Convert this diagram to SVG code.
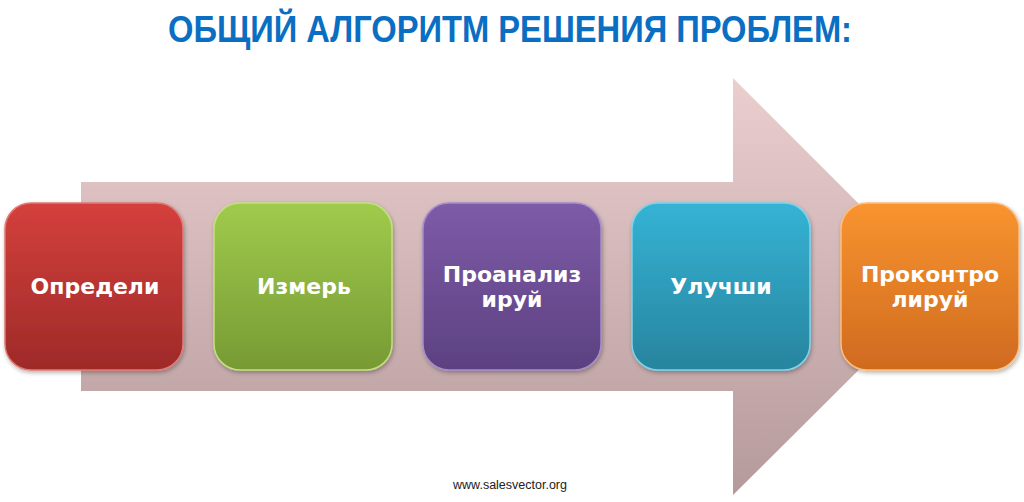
<svg xmlns="http://www.w3.org/2000/svg" width="1024" height="502" viewBox="0 0 1024 502">
<defs>
<linearGradient id="gArrow" x1="0" y1="0" x2="0" y2="1">
<stop offset="0" stop-color="#EBCFCF"/>
<stop offset="1" stop-color="#B59A9C"/>
</linearGradient>
<linearGradient id="gRed" x1="0" y1="0" x2="0" y2="1">
<stop offset="0" stop-color="#D4403C"/>
<stop offset="1" stop-color="#9E2A28"/>
</linearGradient>
<linearGradient id="gGreen" x1="0" y1="0" x2="0" y2="1">
<stop offset="0" stop-color="#9FCB4C"/>
<stop offset="1" stop-color="#779A34"/>
</linearGradient>
<linearGradient id="gPurple" x1="0" y1="0" x2="0" y2="1">
<stop offset="0" stop-color="#7E5BA8"/>
<stop offset="1" stop-color="#5C4181"/>
</linearGradient>
<linearGradient id="gBlue" x1="0" y1="0" x2="0" y2="1">
<stop offset="0" stop-color="#35B3D5"/>
<stop offset="1" stop-color="#27849E"/>
</linearGradient>
<linearGradient id="gOrange" x1="0" y1="0" x2="0" y2="1">
<stop offset="0" stop-color="#F99430"/>
<stop offset="1" stop-color="#CF6A1F"/>
</linearGradient>
<filter id="shadow" x="-10%" y="-10%" width="125%" height="125%">
<feDropShadow dx="1" dy="2" stdDeviation="2" flood-color="#000" flood-opacity="0.3"/>
</filter>
</defs>
<style>
.box{filter:url(#shadow);stroke-width:1.5;}
.lbl{font-family:"DejaVu Sans",Verdana,sans-serif;font-weight:bold;font-size:22px;fill:#FFFFFF;text-anchor:middle;}
.title{font-family:"Liberation Sans",Arial,sans-serif;font-weight:bold;font-size:36px;fill:#0A6FC2;text-anchor:middle;}
.foot{font-family:"Liberation Sans",Arial,sans-serif;font-size:12.5px;fill:#222;text-anchor:middle;}
</style>
<rect width="1024" height="502" fill="#FFFFFF"/>
<text class="title" x="510" y="42" textLength="684" lengthAdjust="spacingAndGlyphs">ОБЩИЙ АЛГОРИТМ РЕШЕНИЯ ПРОБЛЕМ:</text>
<g id="connectors">
<polygon points="81,182 733,182 733,78 942,287 733,495 733,391 81,391" fill="url(#gArrow)"/>
</g>
<g id="n1">
<rect class="box" x="5" y="203" width="178" height="167" rx="26" fill="url(#gRed)" stroke="#E07A76"/>
<text class="lbl" x="95" y="294">Определи</text>
</g>
<g id="n2">
<rect class="box" x="214" y="203" width="178" height="167" rx="26" fill="url(#gGreen)" stroke="#C2E07E"/>
<text class="lbl" x="304" y="294">Измерь</text>
</g>
<g id="n3">
<rect class="box" x="423" y="203" width="178" height="167" rx="26" fill="url(#gPurple)" stroke="#A58CCB"/>
<text class="lbl" x="512" y="282">Проанализ</text>
<text class="lbl" x="512" y="307">ируй</text>
</g>
<g id="n4">
<rect class="box" x="632" y="203" width="178" height="167" rx="26" fill="url(#gBlue)" stroke="#7CD4EA"/>
<text class="lbl" x="721" y="294">Улучши</text>
</g>
<g id="n5">
<rect class="box" x="841" y="203" width="178" height="167" rx="26" fill="url(#gOrange)" stroke="#FBBE7E"/>
<text class="lbl" x="930" y="282">Проконтро</text>
<text class="lbl" x="930" y="307">лируй</text>
</g>
<text class="foot" x="510" y="489">www.salesvector.org</text>
</svg>
